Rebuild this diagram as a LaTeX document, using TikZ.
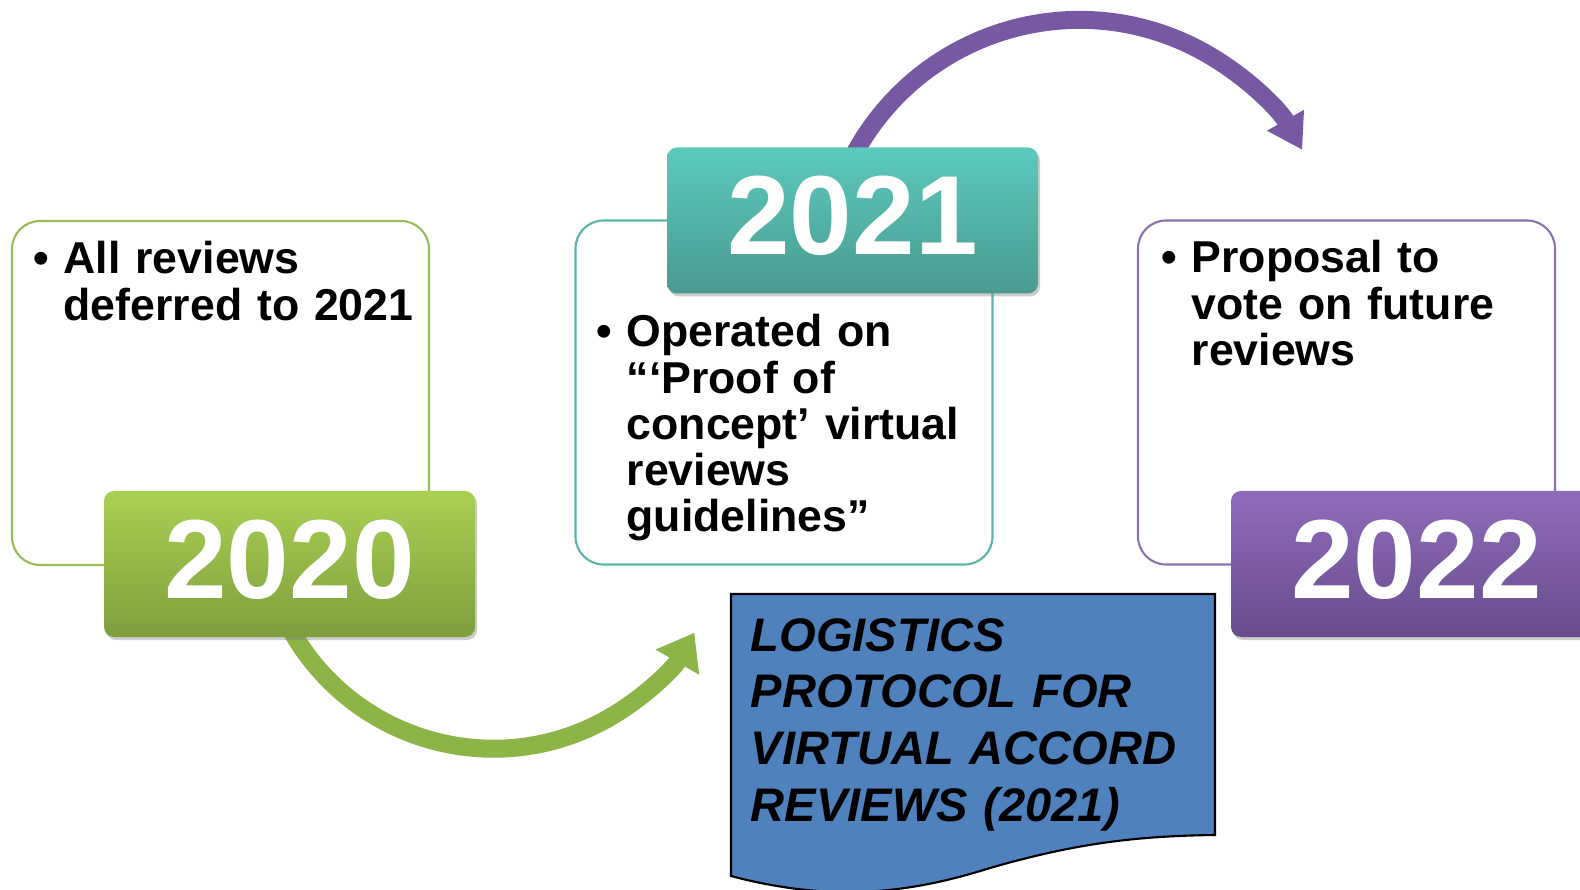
\documentclass[tikz,border=0pt]{standalone}
\usepackage{fontspec}
\setmainfont{Liberation Sans}
\usetikzlibrary{arrows.meta,shadows,backgrounds}

\definecolor{grnline}{HTML}{9BBB59}
\definecolor{grntop}{HTML}{AAD052}
\definecolor{grnbot}{HTML}{7E9E3E}
\definecolor{grnarrow}{HTML}{8DB447}
\definecolor{tealline}{HTML}{5AB4AA}
\definecolor{tealtop}{HTML}{5CCABC}
\definecolor{tealbot}{HTML}{4A9A90}
\definecolor{purpline}{HTML}{8A72AC}
\definecolor{purptop}{HTML}{8F6CBB}
\definecolor{purpbot}{HTML}{684C8C}
\definecolor{purparrow}{HTML}{7659A2}
\definecolor{docblue}{HTML}{4F81BD}

\begin{document}
\begin{tikzpicture}[x=1cm, y=-1cm,
	notebox/.style={draw, fill=white, line width=0.6pt, rounded corners=0.28cm, minimum width=4.17cm, minimum height=3.44cm},
	yearbox/.style={rounded corners=0.1cm, minimum width=3.71cm, minimum height=1.46cm, text depth=0.1cm, text=white,
		font=\fontsize{32}{32}\selectfont\bfseries, drop shadow={shadow xshift=0.02cm, shadow yshift=-0.03cm, opacity=0.4}},
	bullettext/.style={anchor=base west, inner sep=0pt, text width=4cm, align=left, font=\fontsize{12.7}{13.1}\selectfont\bfseries},
	bentarrow/.style={line width=0.18cm},
	]
	\useasboundingbox (0,0) rectangle (15.8,8.9);
	\clip (0,0) rectangle (15.8,8.9);

	\node[notebox, draw=grnline] (note2020) at (2.205,3.93) {};
	\node[notebox, draw=tealline] (note2021) at (7.84,3.925) {};
	\node[notebox, draw=purpline] (note2022) at (13.465,3.925) {};

	\node[yearbox, top color=grntop, bottom color=grnbot] (n2020) at (2.895,5.64) {2020};
	\node[yearbox, top color=tealtop, bottom color=tealbot] (n2021) at (8.525,2.205) {2021};
	\node[yearbox, top color=purptop, bottom color=purpbot] (n2022) at (14.165,5.64) {2022};

	\begin{pgfonlayer}{background}
	\draw[bentarrow, draw=grnarrow, -{Triangle[width=0.48cm, length=0.34cm]}]
		([xshift=0.03cm, yshift=0.05cm]n2020.south) arc[start angle=150, end angle=30, radius=2.32];
	\draw[bentarrow, draw=purparrow, -{Triangle[width=0.40cm, length=0.34cm]}]
		([xshift=0.03cm, yshift=-0.05cm]n2021.north) arc[start angle=-151, end angle=-29.5, radius=2.56];
	\end{pgfonlayer}

	\node[bullettext] (txt2020) at (0.63,2.74) {\llap{\makebox[0.3cm][l]{•}}All reviews\\deferred to 2021};
	\node[bullettext] (txt2021) at (6.26,3.47) {\llap{\makebox[0.3cm][l]{•}}Operated on\\“‘Proof of\\concept’ virtual\\reviews\\guidelines”};
	\node[bullettext] (txt2022) at (11.91,2.73) {\llap{\makebox[0.3cm][l]{•}}Proposal to\\vote on future\\reviews};

	\draw[fill=docblue, line width=0.6pt] (7.31,5.94) -- (12.15,5.94) -- (12.15,8.35)
		.. controls (11.3,8.36) and (10.7,8.45) .. (9.9,8.68)
		.. controls (9.2,8.9) and (8.4,9.05) .. (7.31,8.76) -- cycle;
	\node[anchor=base west, inner sep=0pt, text width=4.6cm, align=left, font=\fontsize{13.4}{16.2}\selectfont\bfseries\itshape] (logistics) at (7.50,6.51)
		{LOGISTICS\\PROTOCOL FOR\\VIRTUAL ACCORD\\REVIEWS (2021)};
\end{tikzpicture}
\end{document}
